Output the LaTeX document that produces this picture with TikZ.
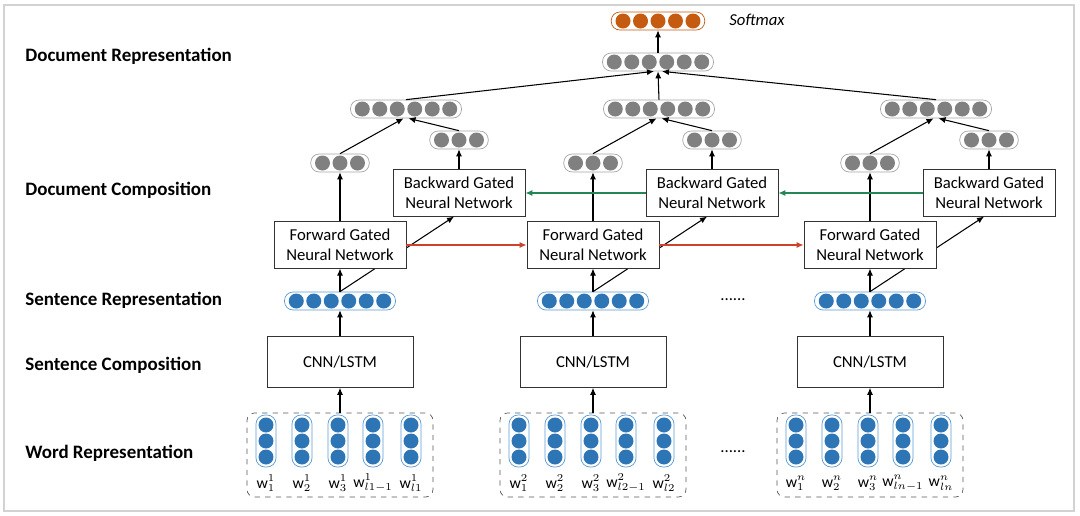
\documentclass[tikz,border=0pt]{standalone}
\usepackage{fontspec}
\setmainfont{Carlito}
\usetikzlibrary{positioning,arrows.meta}
\definecolor{dotblue}{RGB}{46,117,182}
\definecolor{rimblue}{RGB}{91,155,213}
\definecolor{dotgray}{RGB}{128,128,128}
\definecolor{rimgray}{RGB}{165,165,165}
\definecolor{dotorange}{RGB}{197,90,17}
\definecolor{fwdred}{RGB}{205,65,45}
\definecolor{bwdgreen}{RGB}{35,135,85}
\definecolor{framegray}{RGB}{210,210,210}
\tikzstyle{every node}=[font=\fontsize{9.5}{11.5}\selectfont]
\tikzstyle{layer}=[anchor=west,inner sep=0pt,font=\fontsize{10.8}{13}\selectfont\bfseries]
\tikzstyle{net}=[draw=black!80,fill=white,minimum width=2.64cm,minimum height=0.93cm,align=center,inner sep=1pt]
\tikzstyle{cnn}=[draw=black!80,fill=white,minimum width=2.92cm,minimum height=1.02cm]
\tikzstyle{pill}=[draw,fill=white,rounded corners=0.17cm,minimum height=0.36cm,inner sep=0pt]
\tikzstyle{vpill}=[draw=rimblue,fill=white,rounded corners=0.18cm,minimum width=0.4cm,minimum height=1.04cm,inner sep=0pt]
\tikzstyle{wordbox}=[draw=black!65,dashed,rounded corners=0.15cm,minimum width=3.72cm,minimum height=1.68cm]
\tikzstyle{wordlbl}=[inner sep=0.5pt,font=\fontsize{9}{10}\selectfont]
\tikzstyle{link}=[->,black,line width=0.6pt]
\tikzstyle{fwd}=[->,fwdred,line width=1pt]
\tikzstyle{bwd}=[->,bwdgreen,line width=1pt]
\newcommand{\dotrow}[5]{%
  \node[pill,draw=#4,minimum width=#3*0.35cm+0.12cm] (#1) at #2 {};
  \foreach \k in {1,...,#3} \fill[#5] ([xshift={(\k-(#3+1)/2)*0.35cm}]#1.center) circle (0.15cm);
}
\newcommand{\wordvec}[2]{%
  \node[vpill] (#1) at #2 {};
  \foreach \k in {-1,0,1} \fill[dotblue] ([yshift=\k*0.32cm]#1.center) circle (0.15cm);
}

\begin{document}
\begin{tikzpicture}[x=0.02cm,y=-0.02cm,>={Latex[length=4pt,width=3.5pt]}]
  \useasboundingbox (0,0) rectangle (1080,515);
  \draw[framegray,line width=1pt] (4,5) rectangle (1074,511);

  \node[layer] (lblDocRep) at (25,56) {Document Representation};
  \node[layer] (lblDocComp) at (25,190) {Document Composition};
  \node[layer] (lblSentRep) at (25,300) {Sentence Representation};
  \node[layer] (lblSentComp) at (25,365) {Sentence Composition};
  \node[layer] (lblWordRep) at (25,453) {Word Representation};

  \foreach \i/\cx/\s in {1/340/1,2/593/2,3/870/n}{
    \node[wordbox] (wb\s) at (\cx,455) {};
    \foreach \j/\dx/\sub in {1/-74/1,2/-38/2,3/-2/3,4/33/{l\s-1},5/71/{l\s}}{
      \wordvec{wv\s\j}{({\cx+\dx},441)}
      \node[wordlbl] (wl\s\j) at ({\cx+\dx},483) {$\mathrm{w}^{\s}_{\sub}$};
    }
    \node[cnn] (cnn\s) at (\cx,362) {CNN/LSTM};
    \draw[link] (wb\s.north) -- (cnn\s.south);
    \dotrow{sr\s}{(\cx,301)}{6}{rimblue}{dotblue}
    \draw[link] (cnn\s.north) -- (sr\s.south);
    \node[net] (bw\s) at ({\cx+119},193) {Backward Gated\\Neural Network};
    \draw[link] (sr\s.north) -- ([xshift=-0.1cm]bw\s.south);
    \node[net] (fw\s) at (\cx,245) {Forward Gated\\Neural Network};
    \draw[link] (sr\s.north) -- (fw\s.south);
    \dotrow{fo\s}{(\cx,163)}{3}{rimgray}{dotgray}
    \dotrow{bo\s}{({\cx+119},140)}{3}{rimgray}{dotgray}
    \draw[link] (fw\s.north) -- (fo\s.south);
    \draw[link] (bw\s.north) -- (bo\s.south);
    \dotrow{dp\s}{({\cx+66},109)}{6}{rimgray}{dotgray}
    \draw[link] (fo\s.north) -- ([xshift=-0.05cm]dp\s.south);
    \draw[link] (bo\s.north) -- ([xshift=0.05cm]dp\s.south);
  }

  \draw[fwd] (fw1.east) -- (fw2.west);
  \draw[fwd] (fw2.east) -- (fwn.west);
  \draw[bwd] (bwn.west) -- (bw2.east);
  \draw[bwd] (bw2.west) -- (bw1.east);

  \dotrow{dtop}{(658,62)}{6}{rimgray}{dotgray}
  \draw[link] (dp1.north) -- ([xshift=-0.08cm]dtop.south);
  \draw[link] (dp2.north) -- (dtop.south);
  \draw[link] (dpn.north) -- ([xshift=0.08cm]dtop.south);
  \dotrow{soft}{(658,21)}{5}{dotorange}{dotorange}
  \draw[link] (dtop.north) -- (soft.south);
  \node (softlbl) at (757,20) {\textit{Softmax}};

  \node (gapsr) at (733,300) {......};
  \node (gapwr) at (733,452) {......};
\end{tikzpicture}
\end{document}
